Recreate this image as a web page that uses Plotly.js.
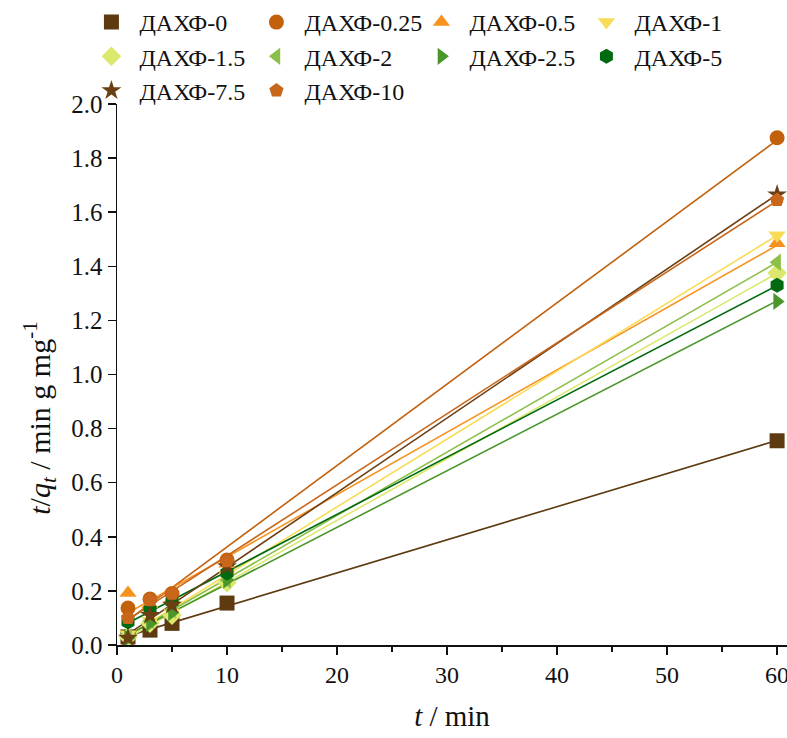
<!DOCTYPE html>
<html>
<head>
<meta charset="utf-8">
<script src="https://cdn.plot.ly/plotly-3.0.1.min.js"></script>
<style>html,body{margin:0;padding:0;background:#fff;}#chart{width:787px;height:738px;}</style>
</head>
<body>
<div id="chart"></div>
<script>
const times = [1, 3, 5, 10, 60];
const seriesNames = ['ДАХФ-0','ДАХФ-0.25','ДАХФ-0.5','ДАХФ-1','ДАХФ-1.5','ДАХФ-2','ДАХФ-2.5','ДАХФ-5','ДАХФ-7.5','ДАХФ-10'];
const dakhf0   = [0.03, 0.055, 0.08, 0.155, 0.755];
const dakhf025 = [0.137, 0.17, 0.19, 0.314, 1.875];
const dakhf05  = [0.192, 0.15, 0.17, 0.30, 1.485];
const dakhf1   = [0.04, 0.09, 0.12, 0.26, 1.515];
const dakhf15  = [0.03, 0.08, 0.11, 0.23, 1.375];
const dakhf2   = [0.03, 0.09, 0.13, 0.24, 1.415];
const dakhf25  = [0.026, 0.08, 0.12, 0.24, 1.270];
const dakhf5   = [0.085, 0.13, 0.16, 0.266, 1.330];
const dakhf75  = [0.026, 0.11, 0.148, 0.29, 1.665];
const dakhf10  = [0.10, 0.166, 0.19, 0.31, 1.645];
const xTicks = [0, 10, 20, 30, 40, 50, 60];
const yTicks = [0, 0.2, 0.4, 0.6, 0.8, 1.0, 1.2, 1.4, 1.6, 1.8, 2.0];
const xTitle = '<i>t</i> / min';
const yTitle = '<i>t</i>/<i>q</i><sub><i>t</i></sub> / min g mg<sup>-1</sup>';

const allValues = [dakhf0, dakhf025, dakhf05, dakhf1, dakhf15, dakhf2, dakhf25, dakhf5, dakhf75, dakhf10];
const colors = ['#5e3a10','#c2600c','#f7921e','#f8dc58','#dbe86c','#8cbf48','#4a962a','#006a10','#6b3f14','#c8661c'];
const symbols = ['square','circle','triangle-up','triangle-down','diamond','triangle-left','triangle-right','hexagon','star','pentagon'];

function fit(x, y) {
  const n = x.length;
  const mx = x.reduce((a,b)=>a+b,0)/n, my = y.reduce((a,b)=>a+b,0)/n;
  let sxy = 0, sxx = 0;
  for (let i=0;i<n;i++){ sxy += (x[i]-mx)*(y[i]-my); sxx += (x[i]-mx)*(x[i]-mx); }
  const b = sxy/sxx; return [my - b*mx, b];
}

const traces = [];
allValues.forEach((vals, i) => {
  const [a, b] = fit(times, vals);
  const xs = [times[0], times[times.length-1]];
  traces.push({x: xs, y: xs.map(v => a + b*v), mode: 'lines', showlegend: false,
    line: {color: colors[i], width: 1.6}, hoverinfo: 'skip', cliponaxis: false});
});
allValues.forEach((vals, i) => {
  traces.push({x: times, y: vals, name: seriesNames[i], mode: 'markers', cliponaxis: false,
    marker: {symbol: symbols[i], color: colors[i], size: 15, line: {width: 0}}});
});

const FAM = '"Liberation Serif", "DejaVu Serif", serif';
const layout = {
  width: 787, height: 738,
  paper_bgcolor: '#ffffff', plot_bgcolor: '#ffffff',
  margin: {l: 117, r: 0, t: 104, b: 93, autoexpand: false},
  font: {family: FAM, color: '#111', size: 20},
  showlegend: true,
  legend: {orientation: 'h', xref: 'container', yref: 'container', x: 0.106, y: 1.0,
    xanchor: 'left', yanchor: 'top', entrywidth: 104, entrywidthmode: 'pixels', itemwidth: 46,
    font: {family: FAM, color: '#111', size: 24}, bgcolor: 'rgba(0,0,0,0)', itemclick: false},
  xaxis: {range: [0, 60.9], tickvals: xTicks, ticks: 'outside', ticklen: 8, tickwidth: 1.5,
    ticklabeloverflow: 'allow',
    minor: {dtick: 5, ticks: 'outside', ticklen: 5, tickwidth: 1.5, tickcolor: '#111'},
    tickcolor: '#111', showline: true, linecolor: '#111', linewidth: 1.5, showgrid: false, zeroline: false,
    tickfont: {family: FAM, color: '#111', size: 24},
    title: {text: xTitle, font: {family: FAM, color: '#111', size: 29}, standoff: 18}},
  yaxis: {range: [0, 2.0], tickvals: yTicks, tickformat: '.1f', ticks: 'outside', ticklen: 8, tickwidth: 1.5,
    tickcolor: '#111', showline: true, linecolor: '#111', linewidth: 1.5, showgrid: false, zeroline: false,
    tickfont: {family: FAM, color: '#111', size: 25}},
  annotations: [{text: yTitle, xref: 'paper', yref: 'paper', x: -0.115, y: 0.42, textangle: -90,
    xanchor: 'center', yanchor: 'middle', showarrow: false, font: {family: FAM, color: '#111', size: 30}}]
};
Plotly.newPlot('chart', traces, layout, {displayModeBar: false, staticPlot: true});
</script>
</body>
</html>
